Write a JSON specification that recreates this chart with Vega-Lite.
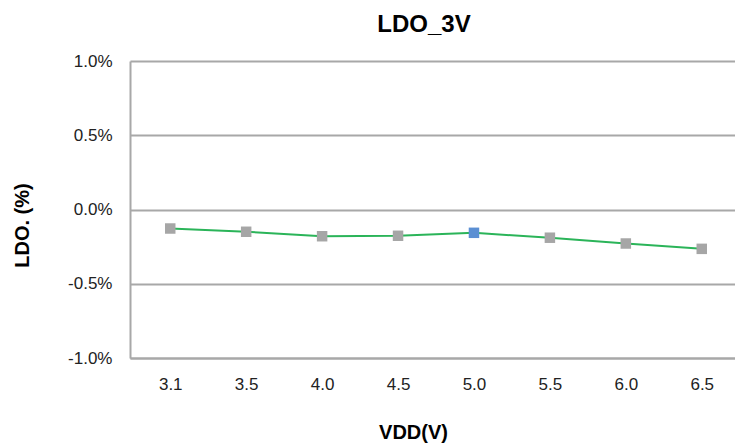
{
  "$schema": "https://vega.github.io/schema/vega-lite/v6.json",
  "autosize": "none",
  "width": 612,
  "height": 297,
  "padding": {"left": 130, "top": 61, "right": 0, "bottom": 89},
  "background": "white",
  "config": {
    "view": {"stroke": null},
    "font": "Liberation Sans",
    "axis": {"gridColor": "#a8a8a8", "gridWidth": 2, "domainColor": "#a8a8a8", "domainWidth": 2}
  },
  "title": {
    "text": "LDO_3V",
    "fontSize": 24,
    "fontWeight": "bold",
    "font": "Liberation Sans",
    "color": "#000000",
    "anchor": "middle",
    "frame": "group",
    "baseline": "alphabetic",
    "offset": 22,
    "dx": -12,
    "dy": 26
  },
  "data": {
    "values": [
      {"vdd": "3.1", "ldo": -0.00128},
      {"vdd": "3.5", "ldo": -0.0015},
      {"vdd": "4.0", "ldo": -0.0018},
      {"vdd": "4.5", "ldo": -0.00177},
      {"vdd": "5.0", "ldo": -0.00157},
      {"vdd": "5.5", "ldo": -0.0019},
      {"vdd": "6.0", "ldo": -0.00229},
      {"vdd": "6.5", "ldo": -0.00265}
    ]
  },
  "encoding": {
    "x": {
      "field": "vdd",
      "type": "ordinal",
      "sort": null,
      "scale": {"type": "point", "padding": 0.53},
      "axis": {
        "title": "VDD(V)",
        "labelAngle": 0,
        "labelFontSize": 17,
        "labelColor": "#222222",
        "labelPadding": 18,
        "ticks": false,
        "grid": false,
        "domain": true,
        "titleFontSize": 20,
        "titleFontWeight": "bold",
        "titleColor": "#000000",
        "titleX": 283,
        "titleY": 80,
        "titleBaseline": "alphabetic"
      }
    },
    "y": {
      "field": "ldo",
      "type": "quantitative",
      "scale": {"domain": [-0.01, 0.01], "nice": false, "zero": false},
      "axis": {
        "title": "LDO. (%)",
        "values": [-0.01, -0.005, 0, 0.005, 0.01],
        "format": ".1%",
        "labelExpr": "replace(datum.label, '\u2212', '-')",
        "labelFontSize": 17,
        "labelColor": "#222222",
        "labelPadding": 18,
        "ticks": false,
        "grid": true,
        "titleFontSize": 20,
        "titleFontWeight": "bold",
        "titleColor": "#000000",
        "titleX": -102,
        "titleY": 164,
        "titleBaseline": "alphabetic"
      }
    }
  },
  "layer": [
    {"mark": {"type": "line", "color": "#2bb459", "strokeWidth": 2}},
    {
      "mark": {"type": "point", "shape": "square", "filled": true, "size": 110, "opacity": 1},
      "encoding": {
        "color": {
          "condition": {"test": "datum.vdd === '5.0'", "value": "#5b8fd3"},
          "value": "#a6a6a6"
        }
      }
    }
  ]
}
